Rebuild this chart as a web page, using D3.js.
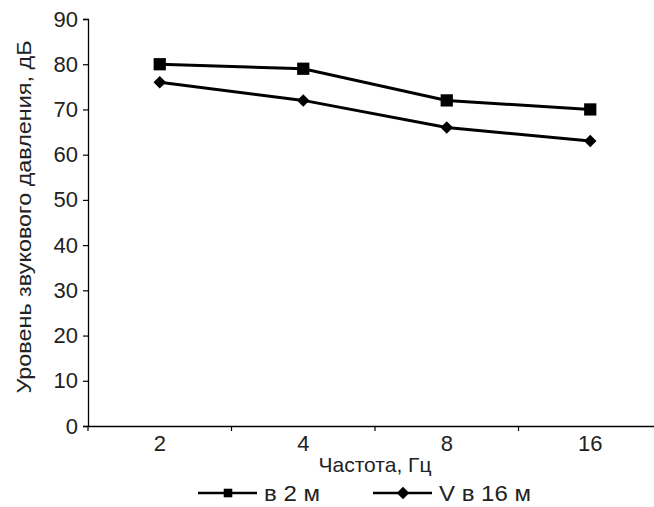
<!DOCTYPE html>
<html>
<head>
<meta charset="utf-8">
<script src="https://cdn.jsdelivr.net/npm/d3@7"></script>
<style>
  body { margin: 0; background: #fff; }
  svg { display: block; }
  text { font-family: "Liberation Sans", Arial, sans-serif; fill: #222; }
</style>
</head>
<body>
<div id="chart"></div>
<script>
// data
const categories = ["2", "4", "8", "16"];
const seriesNames = ["в 2 м", "V в 16 м"];
const near = [80, 79, 72, 70];
const far = [76, 72, 66, 63];
const yTicks = [0, 10, 20, 30, 40, 50, 60, 70, 80, 90];

function lineChart() {
    const width = 654, height = 507;
    const svg = d3.select("#chart").append("svg")
        .attr("width", width)
        .attr("height", height);

    const x = d3.scaleBand().domain(categories).range([88, 662]);
    const y = d3.scaleLinear().domain([0, 90]).range([426, 19]);

    // y axis
    const yAxis = svg.append("g")
        .attr("transform", "translate(88,0)")
        .call(d3.axisLeft(y).tickValues(yTicks).tickSize(5).tickPadding(5));
    yAxis.attr("font-family", null).attr("font-size", null);
    yAxis.selectAll("text").attr("font-size", "22px");

    // x axis, ticks sit between the categories
    const xAxis = svg.append("g")
        .attr("transform", "translate(0,426)")
        .call(d3.axisBottom(x).tickSize(0).tickPadding(9));
    xAxis.attr("font-family", null).attr("font-size", null);
    xAxis.selectAll("text").attr("font-size", "22px");
    xAxis.selectAll(".tick").append("line")
        .attr("x1", -x.bandwidth() / 2).attr("x2", -x.bandwidth() / 2)
        .attr("y1", 0).attr("y2", 5)
        .attr("stroke", "#000");
    svg.selectAll(".domain").attr("stroke", "#000").attr("stroke-width", 1.3);
    svg.selectAll(".tick line").attr("stroke-width", 1.2);

    // axis titles
    svg.append("text")
        .attr("transform", "translate(31,217) rotate(-90)")
        .attr("text-anchor", "middle")
        .attr("font-size", "21px")
        .attr("textLength", 353)
        .attr("lengthAdjust", "spacingAndGlyphs")
        .text("Уровень звукового давления, дБ");

    svg.append("text")
        .attr("x", 375).attr("y", 472)
        .attr("text-anchor", "middle")
        .attr("font-size", "21px")
        .text("Частота, Гц");

    const cx = d => x(d) + x.bandwidth() / 2;
    const line = d3.line().x((d, i) => cx(categories[i])).y(d => y(d));
    const square = d3.symbol().type(d3.symbolSquare).size(150);
    const diamond = d3.symbol().type(d3.symbolSquare).size(78);

    svg.append("path").datum(near)
        .attr("d", line).attr("fill", "none")
        .attr("stroke", "#000").attr("stroke-width", 3);
    svg.append("path").datum(far)
        .attr("d", line).attr("fill", "none")
        .attr("stroke", "#000").attr("stroke-width", 3);

    svg.selectAll(".sq").data(near).enter().append("path")
        .attr("transform", (d, i) => "translate(" + cx(categories[i]) + "," + y(d) + ")")
        .attr("d", square()).attr("fill", "#000");
    svg.selectAll(".dm").data(far).enter().append("path")
        .attr("transform", (d, i) => "translate(" + cx(categories[i]) + "," + y(d) + ") rotate(45)")
        .attr("d", diamond()).attr("fill", "#000");

    // legend
    const legend = [
        { name: seriesNames[0], x: 198, sym: square().toString(), rot: 0, size: 0.7, w: 56 },
        { name: seriesNames[1], x: 373, sym: diamond().toString(), rot: 45, size: 1, w: 92 }
    ];
    const lg = svg.selectAll(".lg").data(legend).enter().append("g")
        .attr("transform", d => "translate(" + d.x + ",493)");
    lg.append("line").attr("x1", 0).attr("x2", 59)
        .attr("stroke", "#000").attr("stroke-width", 2.5);
    lg.append("path")
        .attr("transform", d => "translate(30,0) rotate(" + d.rot + ") scale(" + d.size + ")")
        .attr("d", d => d.sym).attr("fill", "#000");
    lg.append("text").attr("x", 66).attr("y", 8)
        .attr("font-size", "22px")
        .attr("textLength", d => d.w)
        .attr("lengthAdjust", "spacingAndGlyphs")
        .text(d => d.name);
}

lineChart();
</script>
</body>
</html>
